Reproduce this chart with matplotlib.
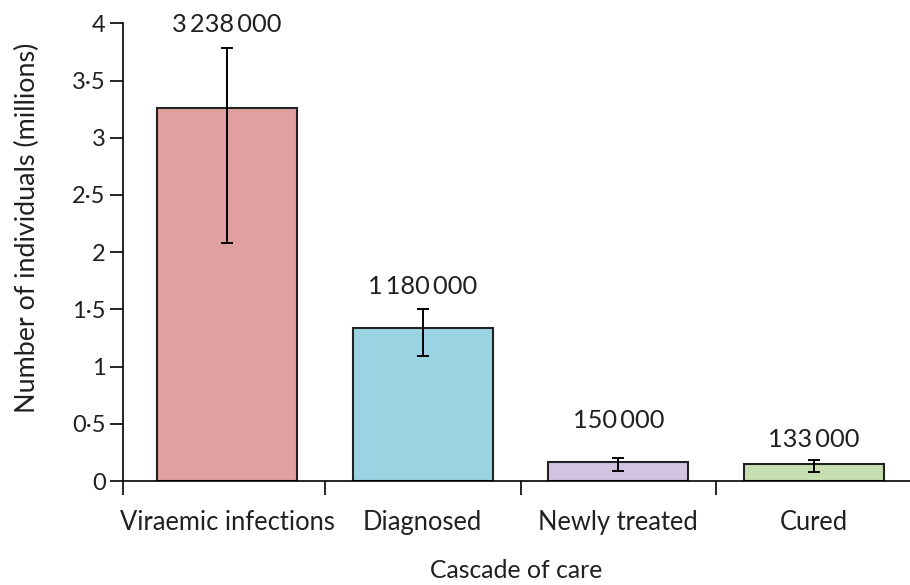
import matplotlib
matplotlib.use("Agg")
import matplotlib.pyplot as plt
import numpy as np

categories = ["Viraemic infections", "Diagnosed", "Newly treated", "Cured"]
values = [3.26, 1.34, 0.169, 0.151]
err_low = [2.08, 1.09, 0.09, 0.075]
err_high = [3.78, 1.50, 0.204, 0.182]
bar_labels = ["3\u2009238\u2009000", "1\u2009180\u2009000", "150\u2009000", "133\u2009000"]
label_y = [3.99, 1.70, 0.53, 0.36]
colors = ["#E0A09F", "#9BD3E3", "#D2C3E0", "#C7DFB0"]
yticks = [0, 0.5, 1, 1.5, 2, 2.5, 3, 3.5, 4]
ytick_labels = ["0", "0·5", "1", "1·5", "2", "2·5", "3", "3·5", "4"]

plt.rcParams['font.family'] = ['Lato', 'DejaVu Sans']
TC = "#231f20"
fig = plt.figure(figsize=(9.1, 5.85), dpi=100)
ax = fig.add_axes([123/910, 104/585, 1 - 123/910, (481-23.3)/585])

x = np.arange(len(categories))
vals = np.array(values)
yerr = np.array([vals - np.array(err_low), np.array(err_high) - vals])
ax.bar(x, vals, width=0.716, color=colors, edgecolor="#222222", linewidth=1.5, zorder=2)
ax.errorbar(x, vals, yerr=yerr, fmt="none", ecolor="black", elinewidth=1.4,
            capsize=4.5, capthick=1.4, zorder=3)
for xi, lab, ly in zip(x, bar_labels, label_y):
    ax.text(xi, ly, lab, ha="center", va="center", fontsize=18.3, color=TC)

xl = -0.533
ax.set_xlim(xl, 3.492)
ax.set_ylim(0, 4)
ax.set_yticks(yticks)
ax.set_yticklabels(ytick_labels, fontsize=17, color=TC)
ax.set_xticks([xl, 0.5, 1.5, 2.5])
ax.set_xticklabels([])
ax.set_xticks(x, minor=True)
ax.set_xticklabels(categories, minor=True, fontsize=18.4, color=TC)
ax.tick_params(axis="x", which="major", direction="out", length=10, width=1.2)
ax.tick_params(axis="x", which="minor", length=0, pad=21)
ax.tick_params(axis="y", direction="out", length=9.5, width=1.2, pad=3)
for s in ["top", "right"]:
    ax.spines[s].set_visible(False)
for s in ["left", "bottom"]:
    ax.spines[s].set_linewidth(1.2)
ax.set_xlabel("Cascade of care", fontsize=17.8, color=TC, labelpad=17)
ax.set_ylabel("Number of individuals (millions)", fontsize=19.4, color=TC)
ax.yaxis.set_label_coords(-0.106, 0.553)

fig.savefig("out.png", dpi=100)
